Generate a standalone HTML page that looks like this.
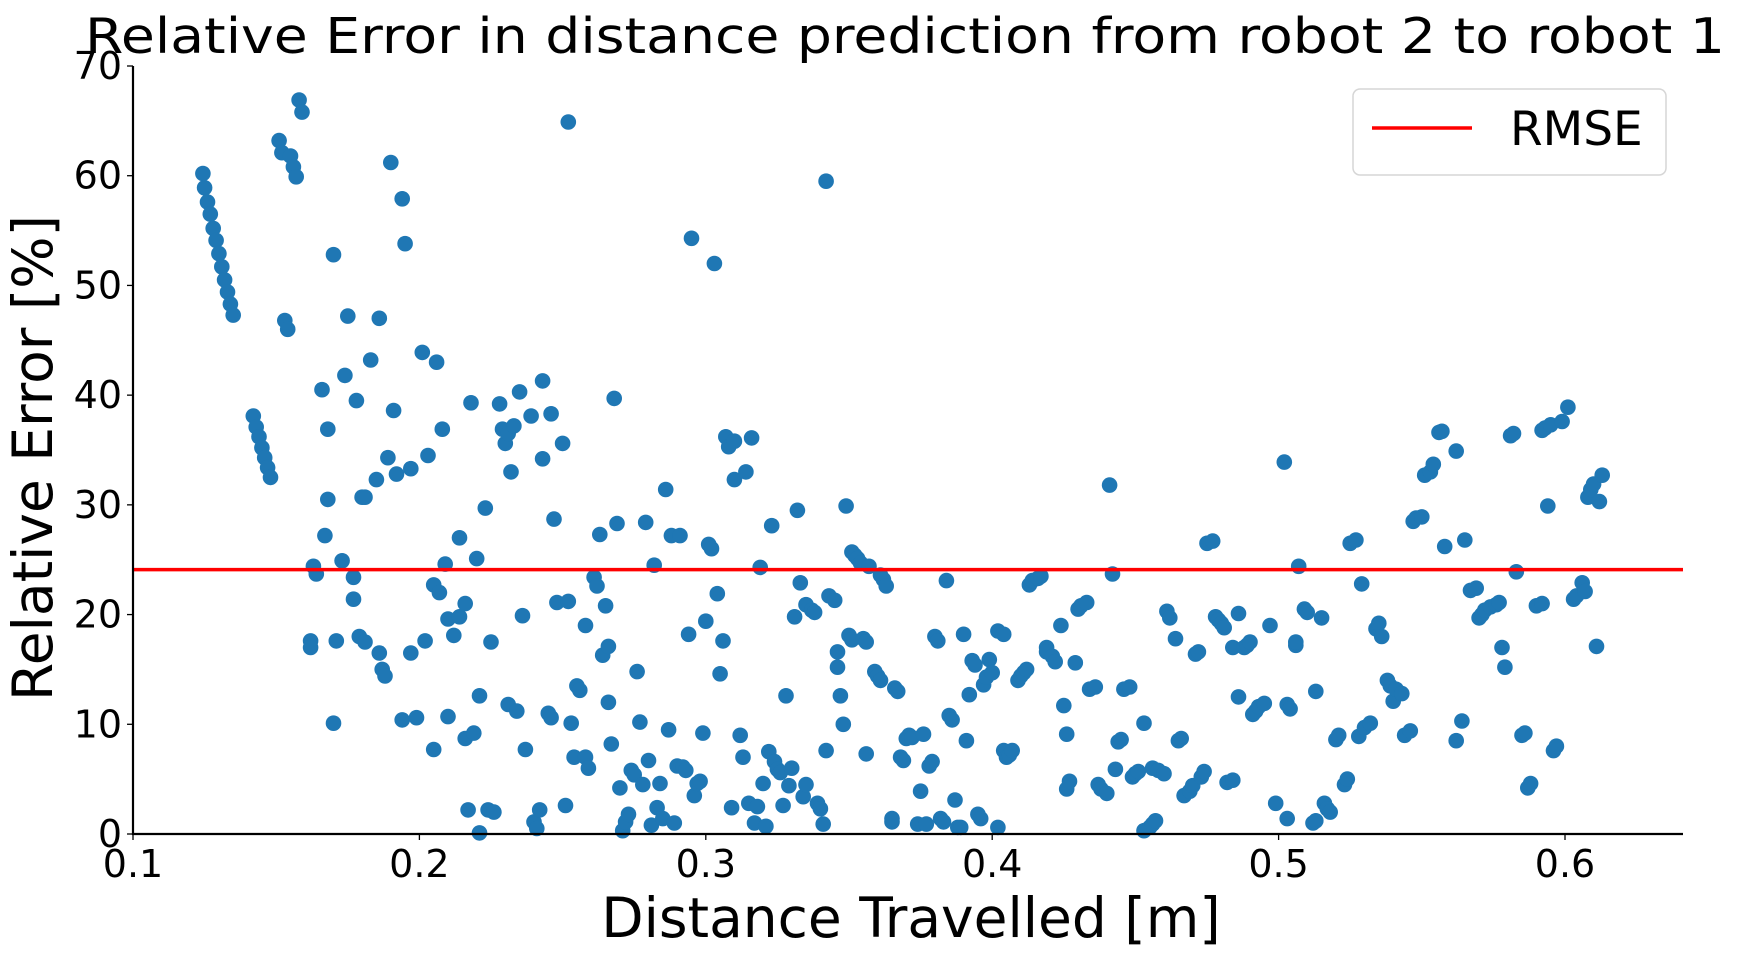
<!DOCTYPE html>
<html><head><meta charset="utf-8"><style>
html,body{margin:0;padding:0;background:#fff;}
svg{display:block;font-family:"DejaVu Sans","Liberation Sans",sans-serif;}
</style></head>
<body>
<svg id="chart" width="1741" height="955" viewBox="0 0 1741 955">
<text x="905" y="53" font-size="49" text-anchor="middle" textLength="1640" lengthAdjust="spacingAndGlyphs">Relative Error in distance prediction from robot 2 to robot 1</text>
<g id="points"></g>
<g id="axes"></g>
<text x="911" y="937" font-size="55" text-anchor="middle">Distance Travelled [m]</text>
<text transform="translate(52,458) rotate(-90)" font-size="55" text-anchor="middle">Relative Error [%]</text>
<g>
<rect x="1353" y="89" width="313" height="86" rx="7" fill="#fff" stroke="#d6d6d6" stroke-width="1.5"/>
<line x1="1372" y1="128" x2="1472" y2="128" stroke="#ff0000" stroke-width="3.5"/>
<text x="1510" y="145" font-size="47">RMSE</text>
</g>
</svg>
<script>
const xTicks = [0.1, 0.2, 0.3, 0.4, 0.5, 0.6];
const yTicks = [0, 10, 20, 30, 40, 50, 60, 70];
const xTickLabels = ["0.1", "0.2", "0.3", "0.4", "0.5", "0.6"];
const yTickLabels = ["0", "10", "20", "30", "40", "50", "60", "70"];
const rmseValue = [24.1];
const xVals = [0.1244,0.125,0.126,0.127,0.128,0.129,0.130,0.131,0.132,0.133,0.134,0.135,
0.142,0.143,0.144,0.145,0.146,0.147,0.148,
0.151,0.152,0.155,0.156,0.157,0.158,0.159,0.153,0.154,
0.170,0.166,0.168,0.167,0.168,0.163,0.164,0.162,0.162,0.171,0.170,0.173,0.174,0.175,0.178,0.180,0.181,0.177,0.177,0.179,0.181,
0.186,0.183,0.185,0.189,0.191,0.192,0.190,0.194,0.195,0.197,0.186,0.187,0.188,0.197,0.194,0.199,
0.201,0.206,0.203,0.208,0.205,0.202,0.205,0.207,0.209,0.210,0.210,0.212,0.214,0.216,0.214,0.216,0.219,0.218,0.220,0.221,0.223,0.225,0.217,0.221,0.224,0.226,
0.228,0.229,0.230,0.231,0.233,0.232,0.231,0.234,0.235,0.236,0.237,0.239,0.240,0.241,0.242,0.243,0.243,0.246,0.247,0.245,0.246,0.248,0.250,0.251,0.252,0.252,0.253,0.254,0.255,0.256,
0.258,0.259,0.258,0.261,0.262,0.263,0.264,0.265,0.266,0.266,0.267,0.268,0.269,0.270,0.271,0.272,0.273,0.274,0.275,0.276,0.277,0.278,0.279,0.280,0.281,0.282,0.283,0.284,0.285,0.286,0.287,0.288,0.289,0.291,0.290,0.292,0.293,0.294,0.295,0.296,0.297,0.298,0.299,
0.300,0.301,0.302,0.303,0.304,0.305,0.306,0.307,0.308,0.309,0.310,0.310,0.312,0.313,0.314,0.315,0.316,0.317,0.318,0.319,0.320,0.321,0.322,0.323,0.324,0.325,0.326,0.327,0.328,0.329,0.330,0.331,0.332,0.333,0.334,0.335,0.335,0.337,0.338,0.339,0.340,0.341,0.342,0.342,0.343,0.345,0.346,0.346,0.347,0.348,0.349,
0.350,0.351,0.351,0.352,0.353,0.354,0.355,0.356,0.356,0.357,0.359,0.360,0.361,0.361,0.362,0.363,0.365,0.365,0.366,0.367,0.368,0.369,0.370,0.371,0.372,0.374,0.375,0.376,0.377,0.378,0.379,0.380,0.381,0.382,0.383,0.384,0.385,0.386,0.387,0.388,0.389,0.390,0.391,0.392,0.393,0.394,0.395,0.396,0.397,0.398,0.399,0.400,
0.402,0.402,0.404,0.404,0.405,0.406,0.407,0.409,0.410,0.411,0.412,0.413,0.414,0.416,0.417,0.419,0.419,0.421,0.422,0.424,0.425,0.426,0.426,0.427,0.429,0.430,0.431,0.433,0.434,0.436,0.437,0.438,0.440,0.441,0.442,0.443,0.444,0.445,0.446,0.448,0.449,0.450,
0.451,0.453,0.453,0.455,0.456,0.457,0.456,0.458,0.460,0.461,0.462,0.464,0.465,0.466,0.467,0.469,0.470,0.471,0.472,0.473,0.474,0.475,0.477,0.478,0.479,0.480,0.481,0.482,0.484,0.484,0.486,0.486,0.488,0.489,0.490,0.491,0.492,0.493,0.495,0.497,0.499,
0.502,0.503,0.503,0.504,0.506,0.506,0.507,0.509,0.510,0.512,0.513,0.513,0.515,0.516,0.517,0.518,0.520,0.521,0.523,0.524,0.525,0.527,0.528,0.529,0.530,0.532,0.534,0.535,0.536,0.538,0.539,0.540,0.541,0.543,0.544,0.546,0.547,0.548,0.550,0.551,
0.553,0.554,0.556,0.557,0.558,0.562,0.562,0.564,0.565,0.567,0.569,0.570,0.571,0.572,0.574,0.576,0.577,0.578,0.579,0.581,0.582,0.583,0.585,0.586,0.587,0.588,0.590,0.592,0.592,0.593,0.595,0.594,0.596,0.597,0.599,0.601,0.603,0.604,0.606,0.607,0.608,0.609,0.610,0.612,0.613,0.611];
const yVals = [60.2,58.9,57.6,56.5,55.2,54.1,52.9,51.7,50.5,49.4,48.3,47.3,
38.1,37.1,36.2,35.2,34.3,33.4,32.5,
63.2,62.1,61.8,60.8,59.9,66.9,65.8,46.8,46.0,
52.8,40.5,36.9,27.2,30.5,24.4,23.7,17.6,17.0,17.6,10.1,24.9,41.8,47.2,39.5,30.7,30.7,23.4,21.4,18.0,17.5,
47.0,43.2,32.3,34.3,38.6,32.8,61.2,57.9,53.8,33.3,16.5,15.0,14.4,16.5,10.4,10.6,
43.9,43.0,34.5,36.9,22.7,17.6,7.7,22.0,24.6,19.6,10.7,18.1,19.8,21.0,27.0,8.7,9.2,39.3,25.1,12.6,29.7,17.5,2.2,0.1,2.2,2.0,
39.2,36.9,35.6,36.5,37.2,33.0,11.8,11.2,40.3,19.9,7.7,38.1,1.1,0.5,2.2,41.3,34.2,38.3,28.7,11.0,10.6,21.1,35.6,2.6,21.2,64.9,10.1,7.0,13.5,13.1,
7.0,6.0,19.0,23.4,22.6,27.3,16.3,20.8,17.1,12.0,8.2,39.7,28.3,4.2,0.3,1.1,1.8,5.8,5.4,14.8,10.2,4.5,28.4,6.7,0.8,24.5,2.4,4.6,1.4,31.4,9.5,27.2,1.0,27.2,6.2,6.1,5.8,18.2,54.3,3.5,4.6,4.8,9.2,
19.4,26.4,26.0,52.0,21.9,14.6,17.6,36.2,35.3,2.4,35.8,32.3,9.0,7.0,33.0,2.8,36.1,1.0,2.5,24.3,4.6,0.7,7.5,28.1,6.6,5.9,5.6,2.6,12.6,4.4,6.0,19.8,29.5,22.9,3.4,4.5,20.9,20.4,20.2,2.8,2.3,0.9,7.6,59.5,21.7,21.3,16.6,15.2,12.6,10.0,29.9,
18.1,17.7,25.7,25.4,25.1,24.7,17.8,17.5,7.3,24.4,14.8,14.4,14.0,23.6,23.2,22.6,1.1,1.4,13.3,13.0,7.0,6.7,8.7,9.0,8.8,0.9,3.9,9.1,0.9,6.2,6.6,18.0,17.6,1.4,1.1,23.1,10.8,10.4,3.1,0.6,0.6,18.2,8.5,12.7,15.8,15.4,1.8,1.4,13.6,14.3,15.9,14.7,
0.6,18.5,18.2,7.6,7.0,7.2,7.6,14.0,14.4,14.7,15.0,22.7,23.1,23.3,23.5,17.0,16.6,16.2,15.7,19.0,11.7,9.1,4.1,4.8,15.6,20.5,20.8,21.1,13.2,13.4,4.5,4.1,3.7,31.8,23.7,5.9,8.4,8.6,13.2,13.4,5.2,5.5,
5.7,10.1,0.3,0.6,0.9,1.2,6.0,5.8,5.5,20.3,19.7,17.8,8.5,8.7,3.5,3.9,4.4,16.4,16.6,5.2,5.7,26.5,26.7,19.8,19.5,19.2,18.8,4.7,4.9,17.0,12.5,20.1,17.0,17.2,17.5,10.9,11.2,11.6,11.9,19.0,2.8,
33.9,1.4,11.8,11.4,17.2,17.5,24.4,20.5,20.2,1.0,1.2,13.0,19.7,2.8,2.3,2.0,8.6,9.0,4.5,5.0,26.5,26.8,8.9,22.8,9.7,10.1,18.7,19.2,18.0,14.0,13.5,12.1,13.2,12.8,9.0,9.4,28.5,28.8,28.9,32.7,
33.0,33.7,36.6,36.7,26.2,34.9,8.5,10.3,26.8,22.2,22.4,19.7,20.0,20.4,20.7,20.9,21.1,17.0,15.2,36.3,36.5,23.9,9.0,9.2,4.2,4.6,20.8,21.0,36.8,37.0,37.3,29.9,7.6,8.0,37.6,38.9,21.4,21.7,22.9,22.1,30.7,31.4,31.9,30.3,32.7,17.1];

const NS = "http://www.w3.org/2000/svg";
const plotLeft = 133, plotRight = 1683, plotBottom = 834, plotTop = 66;
const xMin = 0.1, xMax = 0.6412, yMin = 0, yMax = 70;
function xScale(v){ return plotLeft + (v - xMin) / (xMax - xMin) * (plotRight - plotLeft); }
function yScale(v){ return plotBottom - (v - yMin) / (yMax - yMin) * (plotBottom - plotTop); }

const pts = document.getElementById('points');
const n = Math.min(xVals.length, yVals.length);
for (let i = 0; i < n; i++) {
  const c = document.createElementNS(NS, 'circle');
  c.setAttribute('cx', xScale(xVals[i]).toFixed(1));
  c.setAttribute('cy', yScale(yVals[i]).toFixed(1));
  c.setAttribute('r', '7.8');
  c.setAttribute('fill', '#1f77b4');
  
  
  pts.appendChild(c);
}

const axes = document.getElementById('axes');
const rl = document.createElementNS(NS, 'line');
rl.setAttribute('x1', plotLeft); rl.setAttribute('x2', plotRight);
rl.setAttribute('y1', yScale(rmseValue[0])); rl.setAttribute('y2', yScale(rmseValue[0]));
rl.setAttribute('stroke', '#ff0000'); rl.setAttribute('stroke-width', '3.5');


axes.appendChild(rl);

const ls = document.createElementNS(NS, 'line');
ls.setAttribute('x1', plotLeft); ls.setAttribute('x2', plotLeft);
ls.setAttribute('y1', plotTop); ls.setAttribute('y2', plotBottom + 1);
ls.setAttribute('stroke', '#000'); ls.setAttribute('stroke-width', '2.2');


axes.appendChild(ls);
const bs = document.createElementNS(NS, 'line');
bs.setAttribute('x1', plotLeft - 1); bs.setAttribute('x2', plotRight);
bs.setAttribute('y1', plotBottom); bs.setAttribute('y2', plotBottom);
bs.setAttribute('stroke', '#000'); bs.setAttribute('stroke-width', '2.2');


axes.appendChild(bs);

xTicks.forEach((t, i) => {
  const x = xScale(t);
  const tk = document.createElementNS(NS, 'line');
  tk.setAttribute('x1', x); tk.setAttribute('x2', x);
  tk.setAttribute('y1', plotBottom); tk.setAttribute('y2', plotBottom + 6);
  tk.setAttribute('stroke', '#000'); tk.setAttribute('stroke-width', '1.3');
  
  
  axes.appendChild(tk);
  const lb = document.createElementNS(NS, 'text');
  lb.setAttribute('x', x); lb.setAttribute('y', 877);
  lb.setAttribute('font-size', '38'); lb.setAttribute('text-anchor', 'middle');
  lb.textContent = xTickLabels[i];
  
  
  axes.appendChild(lb);
});
yTicks.forEach((t, i) => {
  const y = yScale(t);
  const tk = document.createElementNS(NS, 'line');
  tk.setAttribute('x1', plotLeft - 6); tk.setAttribute('x2', plotLeft);
  tk.setAttribute('y1', y); tk.setAttribute('y2', y);
  tk.setAttribute('stroke', '#000'); tk.setAttribute('stroke-width', '1.3');
  
  
  axes.appendChild(tk);
  const lb = document.createElementNS(NS, 'text');
  lb.setAttribute('x', 122); lb.setAttribute('y', y + 13);
  lb.setAttribute('font-size', '38'); lb.setAttribute('text-anchor', 'end');
  lb.textContent = yTickLabels[i];
  
  
  axes.appendChild(lb);
});
</script>
</body></html>
